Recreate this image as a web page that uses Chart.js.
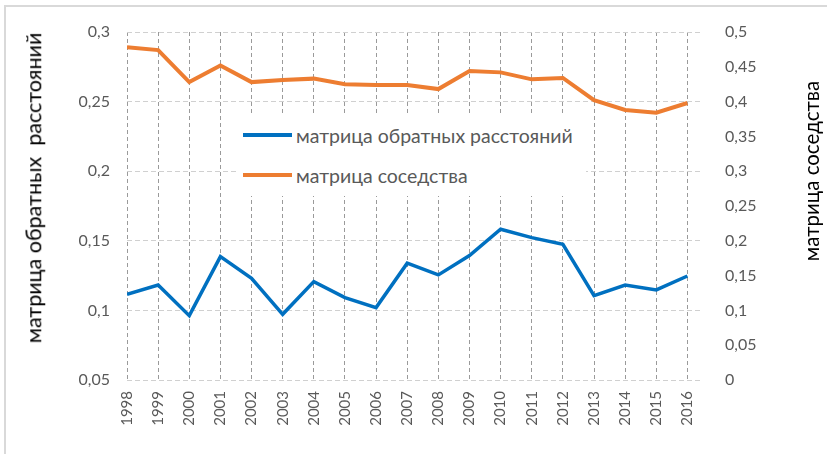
<!DOCTYPE html>
<html>
<head>
<meta charset="utf-8">
<script src="https://cdn.jsdelivr.net/npm/chart.js@4/dist/chart.umd.min.js"></script>
<style>
  html, body { margin: 0; padding: 0; background: #fff; }
  #wrap { position: relative; width: 827px; height: 454px; overflow: hidden; font-family: Lato, "Open Sans", sans-serif; }
  #frame { position: absolute; left: 4px; top: 5px; right: -2px; bottom: -2px; border-top: 2px solid #d9d9d9; border-left: 2px solid #d9d9d9; pointer-events: none; }
  canvas { position: absolute; left: 0; top: 0; }
  .ytitle { position: absolute; white-space: pre; color: #000; font-size: 20.5px; transform-origin: center center; }
  #tl { font-size: 21.5px; }
  #legend { position: absolute; left: 236px; top: 114px; width: 350px; height: 82px; background: #fff; }
  .lrow { position: absolute; left: 7px; height: 22px; display: flex; align-items: center; color: #595959; font-size: 19.5px; white-space: nowrap; }
  .lline { width: 49px; height: 4px; margin-right: 4px; }
</style>
</head>
<body>
<div id="wrap">
  <canvas id="c" width="827" height="454"></canvas>
  <div id="legend"></div>
  <div class="ytitle" id="tl"></div>
  <div class="ytitle" id="tr"></div>
  <div id="frame"></div>
</div>
<script>
const years = [1998,1999,2000,2001,2002,2003,2004,2005,2006,2007,2008,2009,2010,2011,2012,2013,2014,2015,2016];
const inverseDistance = [0.1116,0.1182,0.0962,0.1386,0.1231,0.0972,0.1207,0.1092,0.1020,0.1339,0.1255,0.1394,0.1583,0.1523,0.1475,0.1106,0.1182,0.1147,0.1247];
const contiguity = [0.478,0.474,0.428,0.452,0.428,0.431,0.433,0.425,0.424,0.424,0.418,0.444,0.442,0.432,0.434,0.402,0.388,0.384,0.398];
const seriesNames = ["матрица обратных расстояний", "матрица соседства"];
const leftTitle = "матрица обратных  расстояний";
const rightTitle = "матрица соседства";
const leftTicks = [0.05, 0.1, 0.15, 0.2, 0.25, 0.3];
const rightTicks = [0, 0.05, 0.1, 0.15, 0.2, 0.25, 0.3, 0.35, 0.4, 0.45, 0.5];
const colors = ["#0070C0", "#ED7D31"];

const fmt = v => String(Math.round(v * 100) / 100).replace('.', ',');
const tickFont = { family: 'Lato, "Open Sans", sans-serif', size: 16 };

// Force dashed grid lines regardless of option naming in this Chart.js build
const dashPlugin = {
  id: 'gridDash',
  beforeInit(chart) {
    const ctx = chart.ctx;
    const orig = ctx.setLineDash.bind(ctx);
    ctx.setLineDash = function (arr) {
      if (chart.$gridDash && (!arr || arr.length === 0)) return orig(chart.$gridDash);
      return orig(arr);
    };
  },
  beforeDraw(chart) { chart.$gridDash = [4, 3]; },
  beforeDatasetsDraw(chart) { chart.$gridDash = null; }
};

new Chart(document.getElementById('c'), {
  type: 'line',
  data: {
    datasets: [
      { label: seriesNames[0], data: years.map((y, i) => ({ x: y, y: inverseDistance[i] })), yAxisID: 'yL',
        borderColor: colors[0], borderWidth: 3.5, pointRadius: 0, tension: 0 },
      { label: seriesNames[1], data: years.map((y, i) => ({ x: y, y: contiguity[i] })), yAxisID: 'yR',
        borderColor: colors[1], borderWidth: 4, pointRadius: 0, tension: 0 }
    ]
  },
  options: {
    responsive: false,
    animation: false,
    layout: { padding: { top: 32, left: 0, right: 0, bottom: 0 } },
    plugins: { legend: { display: false }, tooltip: { enabled: false } },
    scales: {
      x: {
        type: 'linear', min: years[0], max: years[years.length - 1] + 0.5,
        afterBuildTicks: s => { s.ticks = years.map(v => ({ value: v })).concat([{ value: years[years.length - 1] + 0.5 }]); },
        afterFit: s => { s.height = 74; },
        border: { display: false, dash: [4, 3] },
        grid: { drawTicks: false, borderDash: [4, 3], color: c => (c.tick && Number.isInteger(c.tick.value)) ? '#9a9a9a' : 'rgba(0,0,0,0)', lineWidth: 1 },
        ticks: { autoSkip: false, minRotation: 90, maxRotation: 90, padding: 11, color: '#595959',
          font: { family: 'Lato, "Open Sans", sans-serif', size: 15 },
          callback: v => Number.isInteger(v) ? String(v) : '' }
      },
      yL: {
        position: 'left', min: 0.05, max: 0.3,
        afterBuildTicks: s => { s.ticks = leftTicks.map(v => ({ value: v })); },
        afterFit: s => { s.width = 127; },
        border: { display: false, dash: [5, 3] },
        grid: { drawTicks: false, borderDash: [5, 3], color: '#d0d0d0', lineWidth: 1 },
        ticks: { padding: 17, color: '#595959', font: tickFont, callback: v => fmt(v) }
      },
      yR: {
        position: 'right', min: 0, max: 0.5,
        afterBuildTicks: s => { s.ticks = rightTicks.map(v => ({ value: v })); },
        afterFit: s => { s.width = 124; },
        border: { display: false },
        grid: { display: false, drawTicks: false },
        ticks: { padding: 22, color: '#595959', font: tickFont, callback: v => fmt(v) }
      }
    }
  },
  plugins: [dashPlugin]
});

// Legend (HTML, real text)
const legend = document.getElementById('legend');
seriesNames.forEach((n, i) => {
  const row = document.createElement('div');
  row.className = 'lrow';
  row.style.top = (i === 0 ? 10 : 50) + 'px';
  const ln = document.createElement('span');
  ln.className = 'lline';
  ln.style.background = colors[i];
  const tx = document.createElement('span');
  tx.textContent = n;
  row.appendChild(ln); row.appendChild(tx);
  legend.appendChild(row);
});

// Axis titles rotated bottom-to-top
function placeTitle(id, text, cx, cy) {
  const el = document.getElementById(id);
  el.textContent = text;
  const w = el.offsetWidth, h = el.offsetHeight;
  el.style.left = (cx - w / 2) + 'px';
  el.style.top = (cy - h / 2) + 'px';
  el.style.transform = 'rotate(-90deg)';
}
placeTitle('tl', leftTitle, 33, 188);
placeTitle('tr', rightTitle, 811, 171);
</script>
</body>
</html>
